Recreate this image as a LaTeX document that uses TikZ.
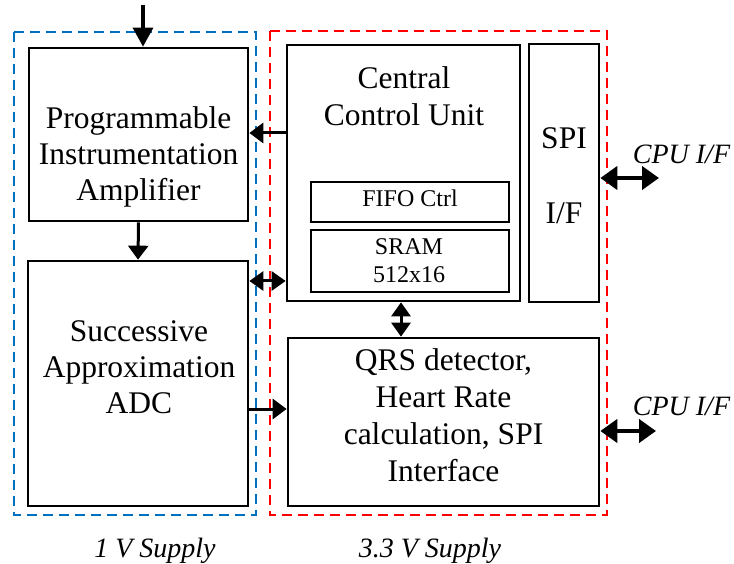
\documentclass[tikz,border=0pt]{standalone}
\usepackage{fontspec}
\setmainfont{Liberation Serif}
\usetikzlibrary{arrows.meta}
\definecolor{supblue}{RGB}{0,112,192}
\definecolor{supred}{RGB}{255,0,0}
\tikzset{
  blk/.style={draw=black, line width=2.7pt, rectangle, inner sep=0pt},
  txt/.style={inner sep=0pt, align=center, font=\fontsize{31.5}{36}\selectfont},
  smalltxt/.style={inner sep=0pt, align=center, font=\fontsize{24}{28}\selectfont},
  itxt/.style={inner sep=0pt, font=\fontsize{28}{32}\selectfont\itshape},
  tip/.style={Triangle[length=14pt,width=20pt]},
  arr/.style={line width=3pt, -{Triangle[length=14pt,width=20pt]}},
  inarr/.style={line width=3.3pt, -{Triangle[length=19pt,width=20pt]}},
  darr/.style={line width=3pt, {Triangle[length=14pt,width=19pt]}-{Triangle[length=14pt,width=19pt]}},
  bigdarr/.style={line width=4.5pt, {Triangle[length=17pt,width=23pt]}-{Triangle[length=17pt,width=23pt]}},
  supply/.style={line width=2.7pt, dash pattern=on 10pt off 6pt},
}
\begin{document}
\begin{tikzpicture}[x=1pt, y=-1pt]
\useasboundingbox (0,0) rectangle (734,564);

% supply domains
\draw[supply, supblue] (14,32) rectangle (256,515);
\draw[supply, supred] (270,31) rectangle (607,515);

% blocks
\node[blk, minimum width=219pt, minimum height=173pt] (pia) at (138.5,134.5) {};
\node[blk, minimum width=220pt, minimum height=245pt] (adc) at (138,383.5) {};
\node[blk, minimum width=233pt, minimum height=256pt] (ccu) at (403.5,173) {};
\node[blk, minimum width=198pt, minimum height=40pt] (fifo) at (410,202) {};
\node[blk, minimum width=198pt, minimum height=62pt] (sram) at (410,261) {};
\node[blk, minimum width=70pt, minimum height=258pt] (spi) at (564,173) {};
\node[blk, minimum width=311pt, minimum height=168pt] (qrs) at (443.5,422) {};

% block texts
\node[txt] (piaT) at (138.5,157) {Programmable\\Instrumentation\\Amplifier};
\node[txt] (adcT) at (139,367) {Successive\\Approximation\\ADC};
\node[txt, font=\fontsize{31.5}{37}\selectfont] (ccuT) at (404,96) {Central\\Control Unit};
\node[smalltxt] (fifoT) at (410,198) {FIFO Ctrl};
\node[smalltxt] (sramT) at (409,261) {SRAM\\512x16};
\node[txt] (spiT) at (564,175.5) {SPI\\[39pt]I/F};
\node[txt, font=\fontsize{31.5}{37}\selectfont] (qrsT) at (443.5,415) {QRS detector,\\Heart Rate\\calculation, SPI\\Interface};

% connectors
\coordinate (in) at (143,5);
\draw[inarr] (in) -- (in |- pia.north);
\draw[arr] (pia.south) -- (adc.north);
\draw[arr] (ccu.west |- 0,133) -- (pia.east |- 0,133);
\draw[darr] (adc.east |- 0,281) -- (ccu.west |- 0,281);
\draw[arr] (adc.east |- 0,409) -- (qrs.west |- 0,409);
\draw[darr] (ccu.south -| 401,0) -- (qrs.north -| 401,0);

\coordinate (cpuA) at (659,178);
\coordinate (cpuB) at (656,431);
\draw[bigdarr] (spi.east |- cpuA) -- (cpuA);
\draw[bigdarr] (qrs.east |- cpuB) -- (cpuB);

% labels
\node[itxt, anchor=base] (cpuAT) at (681.5,164) {CPU I/F};
\node[itxt, anchor=base] (cpuBT) at (681.5,415) {CPU I/F};
\node[itxt, anchor=base] (supA) at (155,557) {1 V Supply};
\node[itxt, anchor=base] (supB) at (430,557) {3.3 V Supply};
\end{tikzpicture}
\end{document}
